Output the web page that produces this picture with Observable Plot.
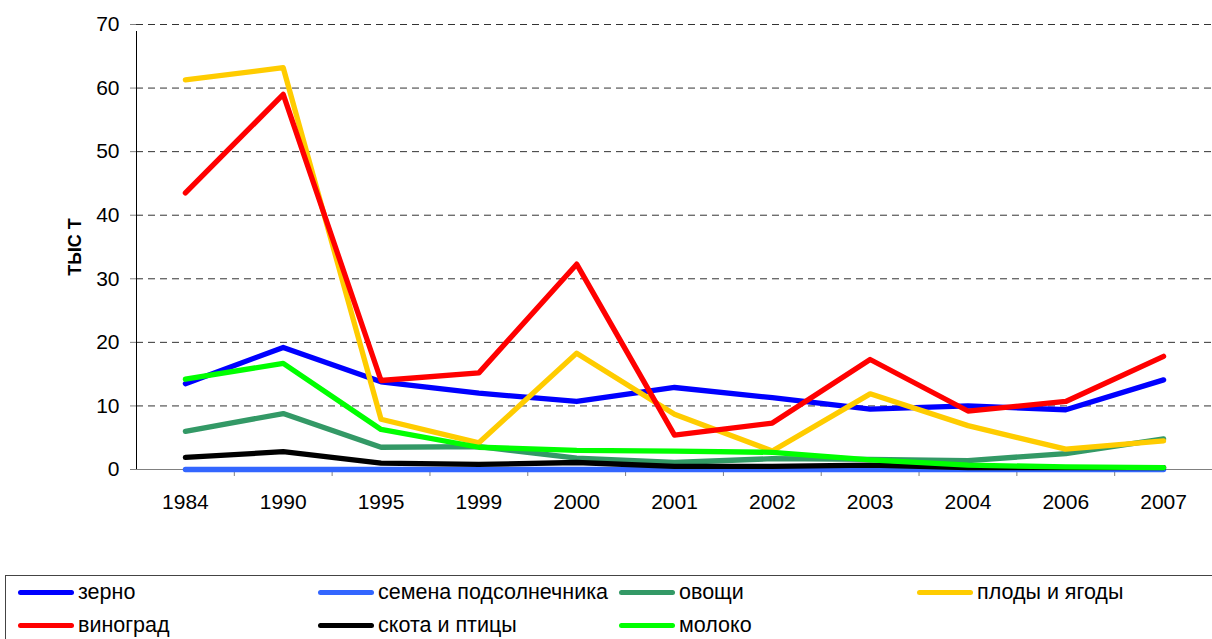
<!DOCTYPE html>
<html>
<head>
<meta charset="utf-8">
<script src="https://cdn.jsdelivr.net/npm/d3@7"></script>
<script src="https://cdn.jsdelivr.net/npm/@observablehq/plot@0.6"></script>
<style>
  html, body { margin: 0; padding: 0; background: #fff; }
  #wrap { position: relative; width: 1212px; height: 639px; overflow: hidden; font-family: "Liberation Sans", Arial, sans-serif; }
  #legend { position: absolute; left: 5px; top: 575px; width: 1220px; height: 70px; border: 1px solid #444; box-sizing: border-box; }
  .item { position: absolute; height: 30px; display: flex; align-items: center; font-size: 21.5px; color: #000; white-space: nowrap; }
  .swatch { width: 56px; height: 5px; border-radius: 3px; margin-right: 4px; }
</style>
</head>
<body>
<div id="wrap">
  <div id="chart"></div>
  <div id="legend"></div>
</div>
<script>
const years = ["1984","1990","1995","1999","2000","2001","2002","2003","2004","2006","2007"];
const yTicks = [0,10,20,30,40,50,60,70];
const yTitle = "ТЫС Т";

const seriesNames = ["зерно","семена подсолнечника","овощи","плоды и ягоды","виноград","скота и птицы","молоко"];
const seriesColors = ["#0000FF","#3366FF","#339966","#FFCC00","#FF0000","#000000","#00FF00"];

const zerno    = [13.5,19.2,13.8,12.0,10.7,12.9,11.3,9.5,10.0,9.4,14.1];
const semena   = [0,0,0,0,0,0,0,0,0,0,0];
const ovoshchi = [6.0,8.8,3.5,3.6,1.8,1.1,1.7,1.6,1.4,2.5,4.8];
const plody    = [61.3,63.2,7.9,4.2,18.3,8.7,2.9,11.9,6.9,3.2,4.5];
const vinograd = [43.5,59.0,14.0,15.2,32.3,5.4,7.3,17.3,9.2,10.7,17.8];
const skot     = [1.9,2.8,1.0,0.8,1.1,0.5,0.5,0.7,0.3,0.3,0.3];
const moloko   = [14.2,16.7,6.3,3.5,3.0,2.9,2.7,1.5,0.7,0.4,0.3];

const seriesValues = [zerno, semena, ovoshchi, plody, vinograd, skot, moloko];

const lineMarks = seriesValues.map((vals, s) =>
  Plot.line(vals.map((v, i) => ({i, v})), {
    x: "i", y: "v",
    stroke: seriesColors[s], strokeWidth: 5.3,
    strokeLinecap: "round", strokeLinejoin: "round"
  })
);

const centers = years.map((_, i) => i);
const boundaries = years.map((_, i) => i + 0.5);

const chart = Plot.plot({
  width: 1212,
  height: 560,
  marginLeft: 136,
  marginRight: 0,
  marginTop: 24,
  marginBottom: 91,
  x: {domain: [-0.5, years.length - 0.5]},
  y: {domain: [0, 70]},
  style: {fontFamily: "'Liberation Sans', Arial, sans-serif", fontSize: "21px", color: "#000", background: "#fff", overflow: "visible"},
  marks: [
    Plot.gridY(yTicks.filter(v => v > 0), {stroke: "#333", strokeOpacity: 1, strokeDasharray: "7,5"}),
    Plot.ruleY([0], {stroke: "#808080", insetLeft: -6}),
    Plot.axisY(yTicks, {tickSize: 6, tickPadding: 11, stroke: "#808080", fill: "#000", label: null}),
    Plot.ruleX([-0.5], {y1: 0, y2: 70, stroke: "#000", insetBottom: -7}),
    Plot.axisX(boundaries, {tickSize: 7, stroke: "#808080", tickFormat: () => "", label: null}),
    Plot.axisX(centers, {tickSize: 0, tickPadding: 25, tickFormat: i => years[i], fill: "#000", label: null}),
    Plot.text([yTitle], {frameAnchor: "left", dx: -61, rotate: -90, fontWeight: "bold", fontSize: 18, textAnchor: "middle", fill: "#000"}),
    ...lineMarks
  ]
});
document.getElementById("chart").appendChild(chart);

// legend
const legendPos = [
  {left: 12, top: 1}, {left: 312, top: 1}, {left: 613, top: 1}, {left: 911, top: 1},
  {left: 12, top: 34}, {left: 312, top: 34}, {left: 613, top: 34}
];
const legend = document.getElementById("legend");
seriesNames.forEach((name, s) => {
  const item = document.createElement("div");
  item.className = "item";
  item.style.left = legendPos[s].left + "px";
  item.style.top = legendPos[s].top + "px";
  const sw = document.createElement("div");
  sw.className = "swatch";
  sw.style.background = seriesColors[s];
  const tx = document.createElement("span");
  tx.textContent = name;
  item.appendChild(sw);
  item.appendChild(tx);
  legend.appendChild(item);
});
</script>
</body>
</html>
